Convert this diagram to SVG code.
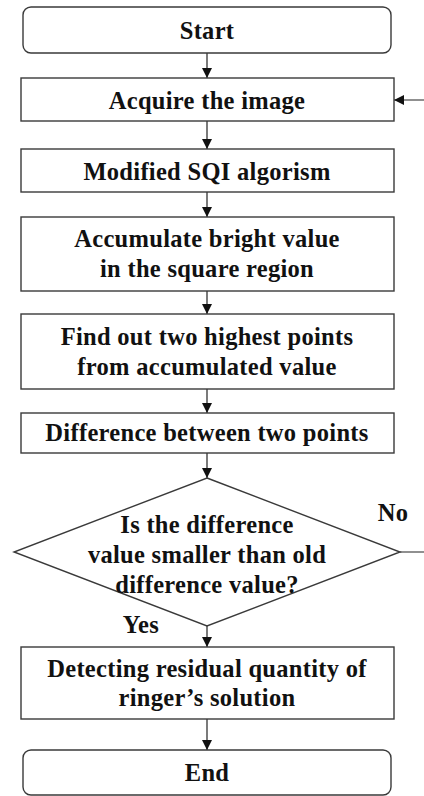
<svg xmlns="http://www.w3.org/2000/svg" width="424" height="796" viewBox="0 0 424 796">
<style>
.box{fill:#fff;stroke:#3a3a3a;stroke-width:1.4}
.t{font-family:"Liberation Serif","Times New Roman",serif;font-weight:bold;font-size:24.5px;letter-spacing:0.3px;fill:#111;text-anchor:middle}
.c{fill:none;stroke:#222;stroke-width:1.2}
</style>
<defs>
<marker id="ah" markerUnits="userSpaceOnUse" markerWidth="10" markerHeight="12" viewBox="0 0 10 12" refX="10" refY="6" orient="auto">
<path d="M0 1 L10 6 L0 11 Z" fill="#111"/>
</marker>
</defs>
<rect width="424" height="796" fill="#fff"/>
<g id="connectors">
<line class="c" x1="207" y1="53" x2="207" y2="78" marker-end="url(#ah)"/>
<line class="c" x1="207" y1="121" x2="207" y2="149" marker-end="url(#ah)"/>
<line class="c" x1="207" y1="192" x2="207" y2="217" marker-end="url(#ah)"/>
<line class="c" x1="207" y1="291" x2="207" y2="314" marker-end="url(#ah)"/>
<line class="c" x1="207" y1="389" x2="207" y2="413" marker-end="url(#ah)"/>
<line class="c" x1="207" y1="453" x2="207" y2="478" marker-end="url(#ah)"/>
<line class="c" x1="207" y1="626" x2="207" y2="647" marker-end="url(#ah)"/>
<line class="c" x1="207" y1="719" x2="207" y2="750" marker-end="url(#ah)"/>
<path class="c" d="M400 552 H427 V100 H394" marker-end="url(#ah)"/>
<text class="t" x="393" y="521">No</text>
<text class="t" x="141" y="633">Yes</text>
</g>
<g id="start">
<rect class="box" x="23" y="7" width="368" height="46" rx="8"/>
<text class="t" x="207" y="39">Start</text>
</g>
<g id="acquire">
<rect class="box" x="21" y="78" width="373" height="43"/>
<text class="t" x="207" y="109">Acquire the image</text>
</g>
<g id="modified">
<rect class="box" x="21" y="149" width="373" height="43"/>
<text class="t" x="207" y="180">Modified SQI algorism</text>
</g>
<g id="accumulate">
<rect class="box" x="21" y="217" width="373" height="74"/>
<text class="t" x="207" y="247">Accumulate bright value</text>
<text class="t" x="207" y="277">in the square region</text>
</g>
<g id="find">
<rect class="box" x="21" y="314" width="373" height="75"/>
<text class="t" x="207" y="345">Find out two highest points</text>
<text class="t" x="207" y="375">from accumulated value</text>
</g>
<g id="difference">
<rect class="box" x="21" y="413" width="373" height="40"/>
<text class="t" x="207" y="441">Difference between two points</text>
</g>
<g id="decision">
<polygon class="box" points="207,478 400,552 207,626 14,552"/>
<text class="t" x="207" y="533">Is the difference</text>
<text class="t" x="207" y="563">value smaller than old</text>
<text class="t" x="207" y="593">difference value?</text>
</g>
<g id="detecting">
<rect class="box" x="21" y="647" width="373" height="72"/>
<text class="t" x="207" y="677">Detecting residual quantity of</text>
<text class="t" x="207" y="706">ringer’s solution</text>
</g>
<g id="end">
<rect class="box" x="23" y="750" width="368" height="45" rx="8"/>
<text class="t" x="207" y="781">End</text>
</g>
</svg>
